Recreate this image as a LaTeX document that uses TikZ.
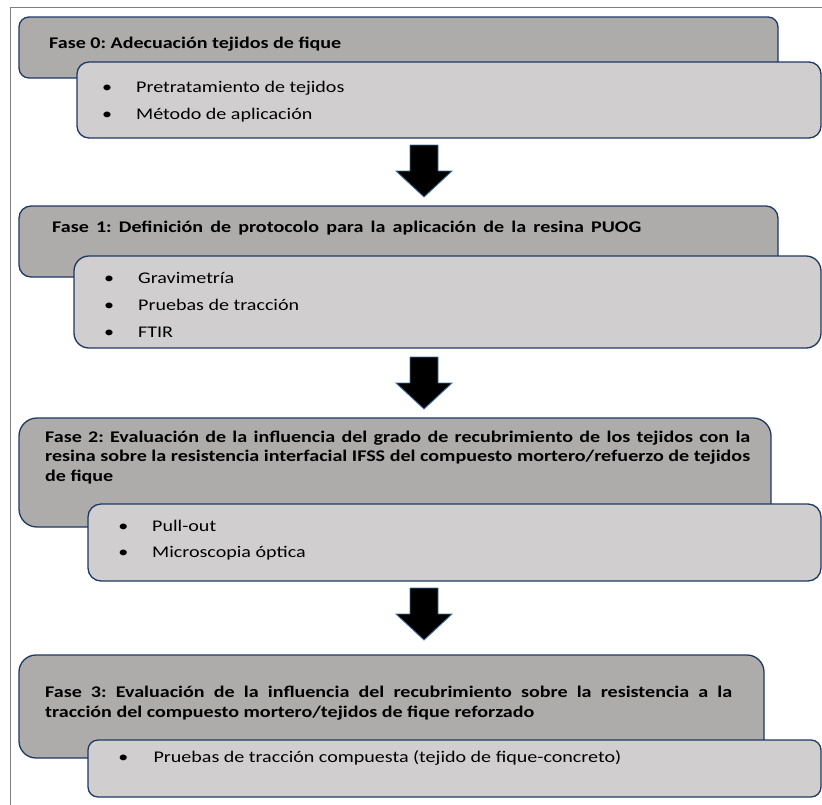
\documentclass[tikz,border=0pt]{standalone}
\usepackage{fontspec}
\setmainfont{Carlito}[FakeStretch=1.23]
\definecolor{hdrfill}{HTML}{AEABAB}
\definecolor{subfill}{HTML}{D0CECE}
\definecolor{navy}{HTML}{1F3864}
\definecolor{arrblue}{HTML}{41719C}
\definecolor{framegray}{HTML}{7F7F7F}
\frenchspacing
\begin{document}
\begin{tikzpicture}[x=1pt,y=-1pt,
  box/.style={draw=navy, line width=1.3pt, inner sep=0pt, outer sep=0pt},
  hdr/.style={box, fill=hdrfill},
  sub/.style={box, fill=subfill},
  hdtext/.style={anchor=base west, inner sep=0pt, font=\bfseries\fontsize{16.3}{19.5}\selectfont},
  bltext/.style={anchor=base west, inner sep=0pt, font=\fontsize{16.3}{19.5}\selectfont},
  blt/.style={anchor=base, inner sep=0pt, font=\fontsize{16.3}{19.5}\selectfont},
  blockarrow/.style={fill=black, draw=arrblue, line width=0.9pt, line join=miter}]
\useasboundingbox (0,0) rectangle (822,804);
\begin{scope}
\clip (0,0) rectangle (822,804);
\draw[framegray, line width=0.8pt] (10,830) -- (10,7) -- (830,7);
\end{scope}
% Fase 0
\node[hdr, rounded corners=10pt, minimum width=759pt, minimum height=61pt] (h0) at (398.5,47.5) {};
\node[sub, rounded corners=12pt, minimum width=744pt, minimum height=76pt] (s0) at (449,100) {};
\node[hdtext] (t0) at (49,48) {\makebox[292pt][s]{Fase 0: Adecuación tejidos de fique}};
\node[blt] (b0a) at (107,92.7) {•};
\node[bltext] (l0a) at (136,92.7) {Pretratamiento de tejidos};
\node[blt] (b0b) at (107,119.5) {•};
\node[bltext] (l0b) at (136,119.5) {Método de aplicación};
% Fase 1
\node[hdr, rounded corners=12pt, minimum width=759pt, minimum height=71pt] (h1) at (398.5,241.5) {};
\node[sub, rounded corners=15pt, minimum width=747pt, minimum height=92pt] (s1) at (447.5,302) {};
\node[hdtext] (t1) at (52,232.7) {\makebox[589pt][s]{Fase 1: Definición de protocolo para la aplicación de la resina PUOG}};
\node[blt] (b1a) at (109,283) {•};
\node[bltext] (l1a) at (138,283) {Gravimetría};
\node[blt] (b1b) at (109,310) {•};
\node[bltext] (l1b) at (138,310) {Pruebas de tracción};
\node[blt] (b1c) at (109,337) {•};
\node[bltext] (l1c) at (138,337) {FTIR};
% Fase 2
\node[hdr, rounded corners=18pt, minimum width=752pt, minimum height=109pt] (h2) at (395,472.5) {};
\node[sub, rounded corners=13pt, minimum width=733pt, minimum height=77pt] (s2) at (454.5,542.5) {};
\node[hdtext] (t2a) at (45,442.3) {\makebox[705pt][s]{Fase 2: Evaluación de la influencia del grado de recubrimiento de los tejidos con la}};
\node[hdtext] (t2b) at (45,461.8) {\makebox[705pt][s]{resina sobre la resistencia interfacial IFSS del compuesto mortero/refuerzo de tejidos}};
\node[hdtext] (t2c) at (45,481.3) {de fique};
\node[blt] (b2a) at (123.3,531.7) {•};
\node[bltext] (l2a) at (152,531.7) {Pull-out};
\node[blt] (b2b) at (123.3,557.7) {•};
\node[bltext] (l2b) at (152,557.7) {Microscopia óptica};
% Fase 3
\node[hdr, rounded corners=17pt, minimum width=745pt, minimum height=103pt] (h3) at (391.5,706.5) {};
\node[sub, rounded corners=10pt, minimum width=733pt, minimum height=57pt] (s3) at (454.5,768.5) {};
\node[hdtext] (t3a) at (45,697.3) {\makebox[687pt][s]{Fase 3: Evaluación de la influencia del recubrimiento sobre la resistencia a la}};
\node[hdtext] (t3b) at (45,717.3) {tracción del compuesto mortero/tejidos de fique reforzado};
\node[blt] (b3a) at (123.3,762.7) {•};
\node[bltext] (l3a) at (153.3,762.7) {Pruebas de tracción compuesta (tejido de fique-concreto)};
% arrows
\coordinate (a1) at (424,145);
\coordinate (a2) at (424,357);
\coordinate (a3) at (424,588);
\foreach \a in {a1,a2,a3}{
  \draw[blockarrow, shift={(\a)}] (-14,0) -- (14,0) -- (14,26) -- (28,26) -- (0,52) -- (-28,26) -- (-14,26) -- cycle;
}
\end{tikzpicture}
\end{document}
